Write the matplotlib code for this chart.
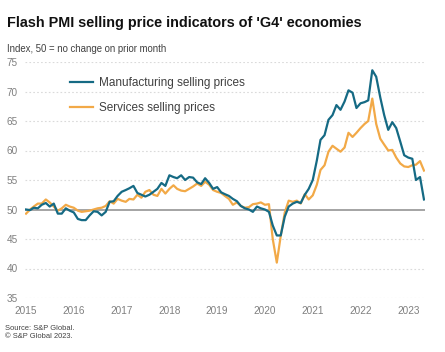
import matplotlib.pyplot as plt
import pandas as pd

plt.rcParams['font.family'] = ['Liberation Sans', 'DejaVu Sans']

# monthly, Jan 2015 - May 2023
months = pd.date_range('2015-01-01', periods=101, freq='MS')

manufacturing = [
    50.0, 49.9, 50.3, 50.2, 50.8, 51.1, 50.5, 51.0, 49.3, 49.3, 50.2, 49.8,  # 2015
    49.5, 48.4, 48.2, 48.2, 49.0, 49.7, 49.6, 49.0, 49.6, 51.3, 51.4, 52.3,  # 2016
    53.0, 53.3, 53.6, 54.0, 52.8, 52.5, 52.2, 52.5, 53.0, 53.5, 54.5, 54.0,  # 2017
    55.8, 55.5, 55.3, 55.8, 55.0, 55.5, 55.4, 54.6, 54.3, 55.3, 54.5, 53.5,  # 2018
    53.8, 52.9, 52.6, 52.3, 51.8, 51.4, 50.6, 50.2, 50.0, 49.6, 50.5, 50.2,  # 2019
    50.0, 49.6, 47.3, 45.6, 45.6, 48.8, 50.5, 51.0, 51.3, 51.1, 52.5, 53.5,  # 2020
    55.0, 58.3, 61.8, 62.6, 65.2, 66.0, 67.7, 66.9, 68.3, 70.2, 69.8, 67.2,  # 2021
    68.0, 68.2, 68.5, 73.6, 72.5, 69.0, 66.0, 63.5, 64.8, 63.8, 61.5, 59.2,  # 2022
    58.8, 58.6, 55.0, 55.5, 51.7,                                            # 2023
]

services = [
    49.3, 50.0, 50.5, 51.0, 51.0, 51.7, 51.2, 50.5, 49.8, 50.2, 50.8, 50.5,  # 2015
    50.3, 49.8, 49.6, 49.7, 49.8, 50.0, 50.2, 50.3, 50.6, 51.4, 51.0, 51.8,  # 2016
    51.5, 51.3, 51.8, 51.7, 52.5, 52.0, 53.0, 53.3, 52.5, 52.3, 53.5, 52.7,  # 2017
    53.5, 54.1, 53.5, 53.2, 53.1, 53.5, 53.9, 54.4, 54.0, 54.7, 54.2, 53.3,  # 2018
    53.0, 52.8, 52.3, 51.8, 50.8, 51.2, 50.6, 50.3, 50.4, 50.9, 51.0, 51.2,  # 2019
    50.8, 50.9, 45.0, 41.0, 45.5, 49.5, 51.5, 51.3, 51.5, 51.0, 52.6, 51.7,  # 2020
    52.4, 54.2, 56.7, 57.5, 59.8, 60.8, 60.3, 59.8, 60.5, 63.0, 62.3, 63.0,  # 2021
    63.8, 64.5, 65.0, 68.8, 64.5, 62.0, 61.0, 60.0, 60.1, 58.8, 57.8, 57.3,  # 2022
    57.2, 57.5, 57.6, 58.2, 56.6,                                            # 2023
]

years = list(range(2015, 2024))
yticks = [35, 40, 45, 50, 55, 60, 65, 70, 75]

fig = plt.figure(figsize=(4.45, 3.52), dpi=100)
ax = fig.add_axes([25 / 445, 1 - 298 / 352, 400 / 445, 236 / 352])

for y in yticks:
    if y == 50:
        ax.axhline(y, color='#8c8c8c', lw=1.1, zorder=1)
    else:
        ax.axhline(y, color='#dadada', lw=0.8, ls=(0, (1.5, 2)), zorder=1)

ax.plot(months, services, color='#f2a947', lw=1.6, label='Services selling prices', zorder=3)
ax.plot(months, manufacturing, color='#156a84', lw=1.6, label='Manufacturing selling prices', zorder=4)

ax.set_ylim(35, 75)
ax.set_xlim(months[0] - pd.Timedelta(days=8), months[-1] + pd.Timedelta(days=8))
ax.set_yticks(yticks)
ax.set_xticks([pd.Timestamp(f'{y}-01-01') for y in years])
ax.set_xticklabels([str(y) for y in years])
ax.tick_params(length=0, labelsize=7.2, colors='#7f7f7f')
ax.tick_params(axis='y', pad=5)
ax.tick_params(axis='x', pad=6)
for s in ax.spines.values():
    s.set_visible(False)

h, l = ax.get_legend_handles_labels()
leg = ax.legend(h[::-1], l[::-1], loc='upper left', bbox_to_anchor=(0.085, 0.98),
                frameon=False, fontsize=8.5, handlelength=2.0, labelspacing=1.1,
                handletextpad=0.45)
for t in leg.get_texts():
    t.set_color('#404040')

fig.text(7 / 445, 1 - 23 / 352, "Flash PMI selling price indicators of 'G4' economies",
         fontsize=10.4, fontweight='bold', va='center', color='#111111')
fig.text(7 / 445, 1 - 49 / 352, 'Index, 50 = no change on prior month',
         fontsize=6.9, va='center', color='#404040')
fig.text(5 / 445, 1 - 329 / 352, 'Source: S&P Global.', fontsize=5.4, va='center', color='#404040')
fig.text(5 / 445, 1 - 337 / 352, '\u00a9 S&P Global 2023.', fontsize=5.4, va='center', color='#404040')

fig.savefig('out.png', dpi=100)
